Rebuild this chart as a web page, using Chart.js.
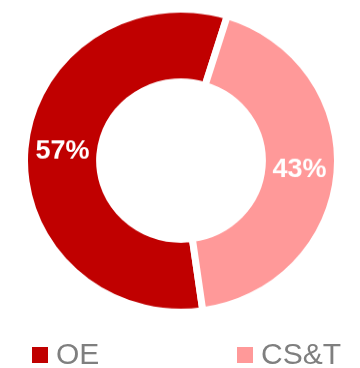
<!DOCTYPE html>
<html>
<head>
<meta charset="utf-8">
<script src="https://cdn.jsdelivr.net/npm/chart.js@4/dist/chart.umd.min.js"></script>
<style>
    html, body { margin: 0; padding: 0; background: #fff; overflow: hidden; }
    #wrap { position: relative; width: 360px; height: 368px; }
    /* ring is a touch wider than tall, so squash the canvas a little */
    #ring { position: absolute; left: 0; top: 0; transform: scaleY(0.9675); transform-origin: 0 0; }
    #legend { position: absolute; left: 0; top: 0; width: 360px; height: 368px; }
    .legend-item { position: absolute; top: 339px; height: 30px; }
    .legend-box { position: absolute; top: 8px; left: 0; width: 16px; height: 16px; }
    .legend-text {
        position: absolute; top: 0; left: 24px; white-space: nowrap;
        font-family: "Liberation Sans", Arial, sans-serif; font-size: 30px; line-height: 30px; color: #7f7f7f;
    }
</style>
</head>
<body>
<div id="wrap">
    <canvas id="ring" width="360" height="326"></canvas>
    <div id="legend"></div>
</div>
<script>
const categories = ['OE', 'CS&T'];
const shares = [57, 43];
const sliceColors = ['#c00000', '#ff9999'];
const legendLeft = [32, 237];

// white percentage text in the middle of each slice
const sliceLabels = {
    id: 'sliceLabels',
    afterDatasetsDraw(chart) {
        const ctx = chart.ctx;
        const meta = chart.getDatasetMeta(0);
        ctx.save();
        ctx.fillStyle = '#ffffff';
        ctx.font = 'bold 27px "Liberation Sans", Arial, sans-serif';
        ctx.textAlign = 'center';
        ctx.textBaseline = 'middle';
        meta.data.forEach((arc, i) => {
            const pos = arc.tooltipPosition();
            ctx.fillText(shares[i] + '%', pos.x, pos.y);
        });
        ctx.restore();
    }
};

const chart = new Chart(document.getElementById('ring'), {
    type: 'doughnut',
    data: {
        labels: categories,
        datasets: [{
            data: shares,
            backgroundColor: sliceColors,
            borderColor: '#ffffff',
            borderWidth: 7,
            hoverOffset: 0
        }]
    },
    options: {
        responsive: false,
        animation: false,
        events: [],
        rotation: 172,
        cutout: '52%',
        layout: { padding: { left: 20.5, right: 18.5, top: 6, bottom: 0 } },
        plugins: {
            legend: { display: false },
            tooltip: { enabled: false }
        }
    },
    plugins: [sliceLabels]
});

// legend below the ring, built from the chart's own legend items
const legendEl = document.getElementById('legend');
chart.options.plugins.legend.labels.generateLabels(chart).forEach((item, i) => {
    const div = document.createElement('div');
    div.className = 'legend-item';
    div.style.left = legendLeft[i] + 'px';
    div.innerHTML = `<span class="legend-box" style="background:${item.fillStyle}"></span><span class="legend-text">${item.text.replace('&', '&amp;')}</span>`;
    legendEl.appendChild(div);
});
</script>
</body>
</html>
